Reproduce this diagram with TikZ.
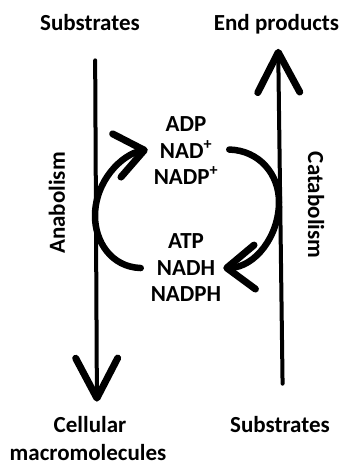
\documentclass[tikz,border=0pt]{standalone}
\usepackage{fontspec}
\setmainfont{Carlito}
\usepackage{tikz}
\usetikzlibrary{arrows.meta}

\begin{document}
\begin{tikzpicture}[x=1pt, y=1pt,
  every node/.style={inner sep=0pt, font=\bfseries\fontsize{23}{27}\selectfont},
  shaft/.style={line width=4pt, line cap=round,
    -{Straight Barb[length=40pt, width=42pt, line width=7pt, round]}},
  cycarrow/.style={line width=6.5pt, line cap=round,
    -{Straight Barb[length=28pt, width=44pt, line width=7pt, round]}}]

\useasboundingbox (0,0) rectangle (345,465);

\node[anchor=base] (subsL) at (90,434) {Substrates};
\node[anchor=base] (endp) at (276.5,434) {End products};
\node[anchor=base] (cell) at (90,32) {Cellular};
\node[anchor=base] (macro) at (88,5) {macromolecules};
\node[anchor=base] (subsR) at (280,32) {Substrates};

\node[rotate=90] (anab) at (57,262) {Anabolism};
\node[rotate=-90] (catab) at (316,260) {Catabolism};

% middle column
\node[anchor=base] (adp) at (186,333) {ADP};
\node[anchor=base] (nad) at (186,306.5) {NAD\textsuperscript{+}};
\node[anchor=base] (nadp) at (186,280) {NADP\textsuperscript{+}};
\node[anchor=base] (atp) at (186,216) {ATP};
\node[anchor=base] (nadh) at (186,189.5) {NADH};
\node[anchor=base] (nadph) at (186,163) {NADPH};

\draw[shaft, shorten <=29pt, shorten >=15pt] ([xshift=5pt]subsL.south) -- ([xshift=7pt]cell.north);
\draw[shaft, shorten <=33pt, shorten >=14pt] ([xshift=3pt]subsR.north) -- ([xshift=1.5pt]endp.south);

\draw[cycarrow] ([xshift=-16pt]nadh.west) .. controls +(-30,1) and +(0,-25) .. (95,249)
  .. controls +(0,35) and +(-26,-5) .. ([xshift=-12pt]nad.west);
\draw[cycarrow] ([xshift=17pt]nad.east) .. controls +(30,-1) and +(0,28) .. (279,263)
  .. controls +(0,-34) and +(32,1) .. ([xshift=8pt]nadh.east);

\end{tikzpicture}
\end{document}
